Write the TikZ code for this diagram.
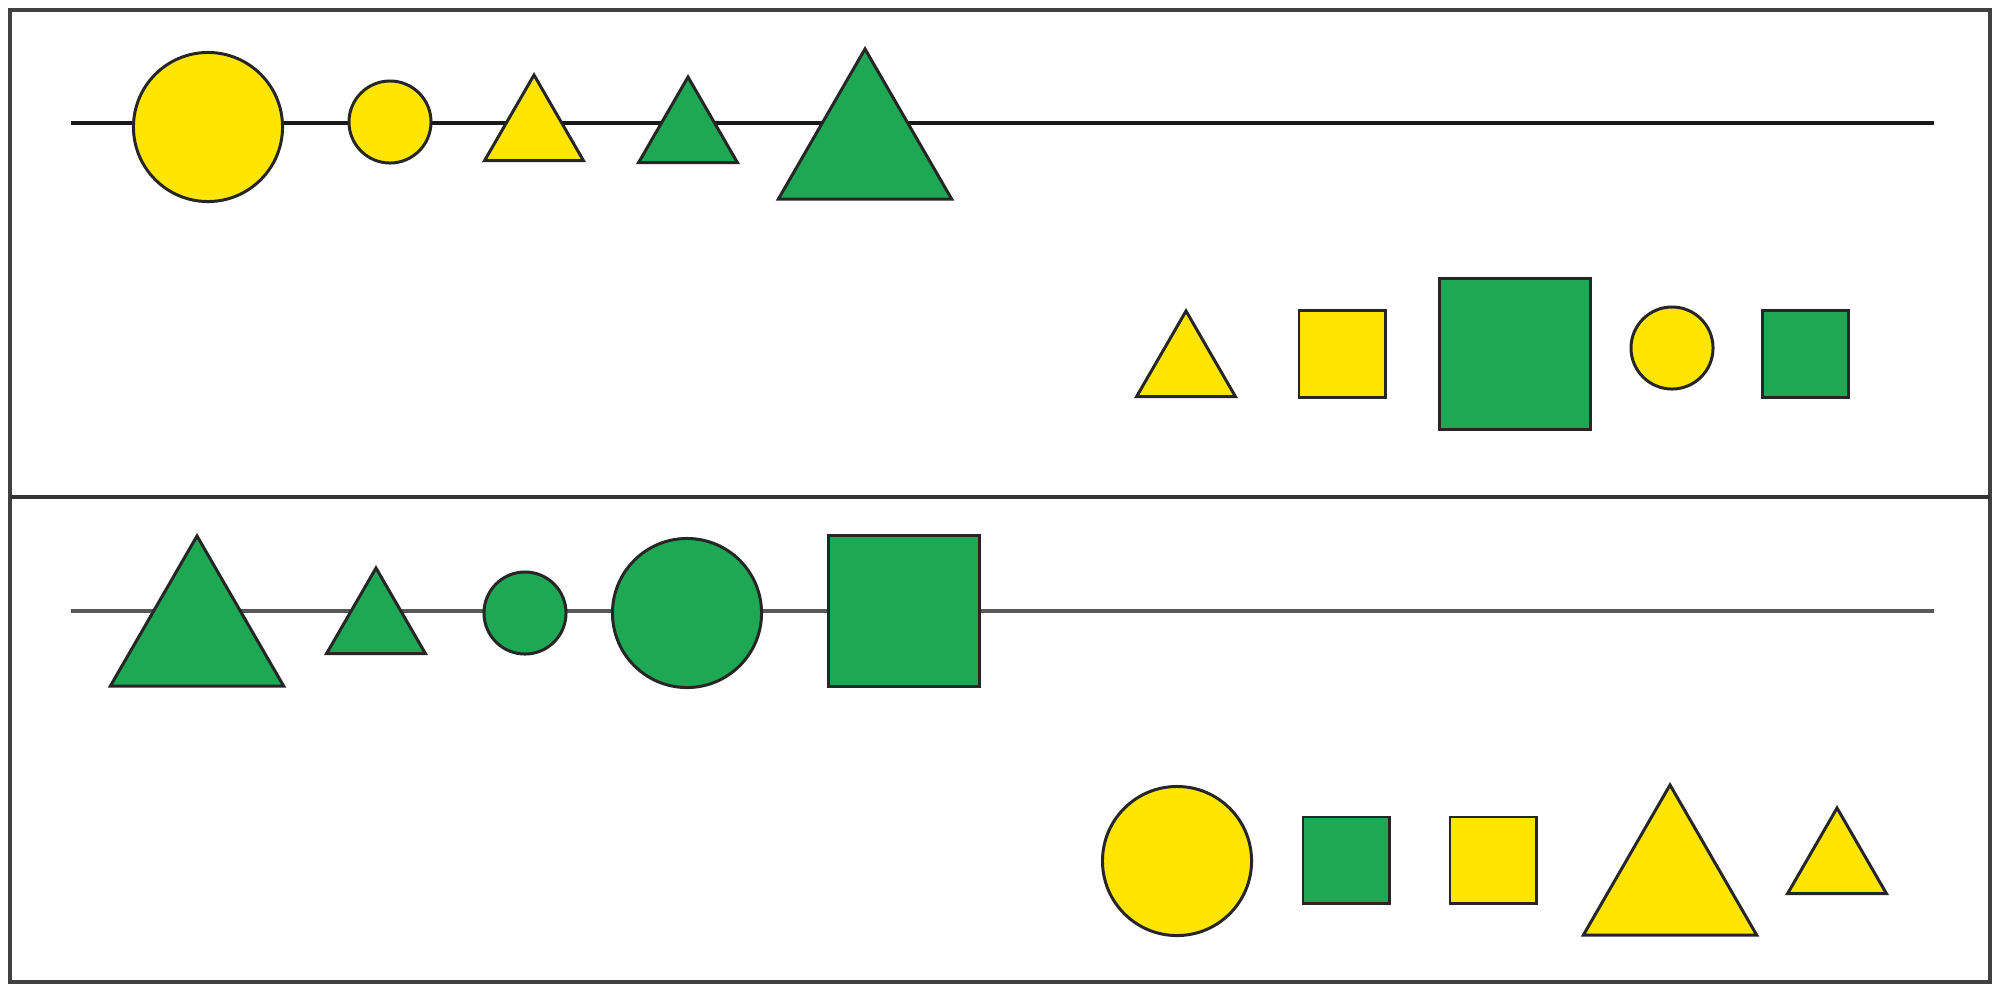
\documentclass[tikz,border=0pt]{standalone}
\usepackage{tikz}
\usetikzlibrary{shapes.geometric}
\definecolor{shapeyellow}{HTML}{FFE500}
\definecolor{shapegreen}{HTML}{1EA853}

\begin{document}
\begin{tikzpicture}[x=0.01cm, y=-0.01cm,
    piece/.style ={draw=black!85, line width=0.85pt, inner sep=0pt, outer sep=0pt},
    bigdisc/.style ={piece, circle, minimum size=1.49cm},
    smalldisc/.style ={piece, circle, minimum size=0.82cm},
    bigtri/.style ={piece, regular polygon, regular polygon sides=3, minimum size=2.0cm},
    smalltri/.style ={piece, regular polygon, regular polygon sides=3, minimum size=1.14cm},
    bigbox/.style ={piece, rectangle, minimum width=1.5cm, minimum height=1.5cm},
    smallbox/.style ={piece, rectangle, minimum width=0.86cm, minimum height=0.86cm}]
   \useasboundingbox (0,0) rectangle (1998,984);

   % frame and the two panels
   \coordinate (NW) at (10,10);
   \coordinate (SE) at (1990,982);
   \coordinate (W) at (10,497);
   \coordinate (E) at (1990,497);
   \draw[line width=1.1pt, black!75] (NW) rectangle (SE);
   \draw[line width=1.1pt, black!80] (W) to (E);

   % the two lines
   \coordinate (L1) at (71,123);
   \coordinate (R1) at (1934,123);
   \coordinate (L2) at (71,611);
   \coordinate (R2) at (1934,611);
   \draw[line width=1.1pt, black!90] (L1) to (R1);
   \draw[line width=1.1pt, black!65] (L2) to (R2);

   % upper panel, on the line
   \node[bigdisc, fill=shapeyellow] (a1) at (208,127) {};
   \node[smalldisc, fill=shapeyellow] (a2) at (390,122) {};
   \node[smalltri, fill=shapeyellow] (a3) at (534,132) {};
   \node[smalltri, fill=shapegreen] (a4) at (688,134) {};
   \node[bigtri, fill=shapegreen] (a5) at (865,149) {};

   % upper panel, off the line
   \node[smalltri, fill=shapeyellow] (b1) at (1186,368) {};
   \node[smallbox, fill=shapeyellow] (b2) at (1342,354) {};
   \node[bigbox, fill=shapegreen] (b3) at (1515,354) {};
   \node[smalldisc, fill=shapeyellow] (b4) at (1672,348) {};
   \node[smallbox, fill=shapegreen] (b5) at (1805,354) {};

   % lower panel, on the line
   \node[bigtri, fill=shapegreen] (c1) at (197,636) {};
   \node[smalltri, fill=shapegreen] (c2) at (376,625) {};
   \node[smalldisc, fill=shapegreen] (c3) at (525,613) {};
   \node[bigdisc, fill=shapegreen] (c4) at (687,613) {};
   \node[bigbox, fill=shapegreen] (c5) at (904,611) {};

   % lower panel, off the line
   \node[bigdisc, fill=shapeyellow] (d1) at (1177,861) {};
   \node[smallbox, fill=shapegreen] (d2) at (1346,860) {};
   \node[smallbox, fill=shapeyellow] (d3) at (1493,860) {};
   \node[bigtri, fill=shapeyellow] (d4) at (1670,885) {};
   \node[smalltri, fill=shapeyellow] (d5) at (1837,865) {};
\end{tikzpicture}
\end{document}
